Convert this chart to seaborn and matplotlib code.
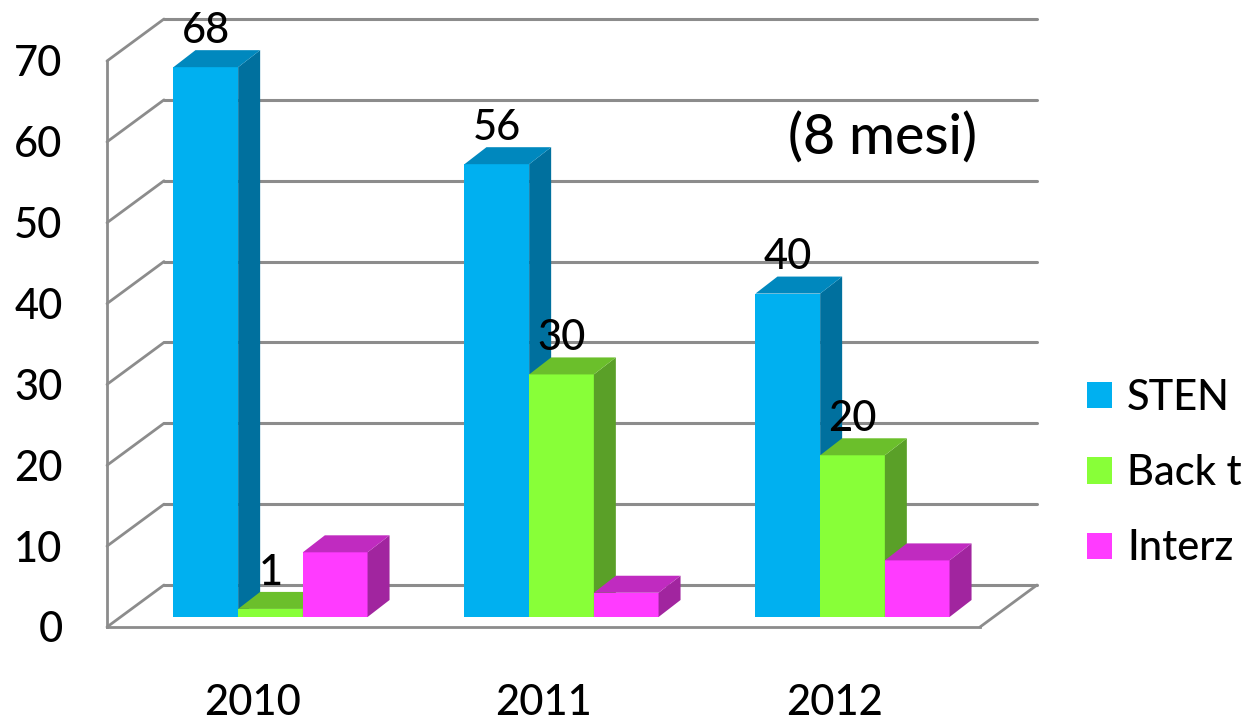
import matplotlib
matplotlib.use("Agg")
import matplotlib.pyplot as plt
from matplotlib.patches import Polygon, Patch
import seaborn as sns
import pandas as pd

# ---- data -------------------------------------------------------------
years = ["2010", "2011", "2012"]
series = ["STEN", "Back t", "Interz"]
sten = [68, 56, 40]
back_t = [1, 30, 20]
interz = [8, 3, 7]
labelled_series = ["STEN", "Back t"]
y_ticks = [0, 10, 20, 30, 40, 50, 60, 70]
note = "(8 mesi)"

# face colours per series: front, side, top
front_cols = ["#00B0F0", "#88FF38", "#FF3BFF"]
side_cols = ["#00709E", "#5AA028", "#A1259F"]
top_cols = ["#0088BE", "#6BBF2B", "#C02BC0"]

df = pd.DataFrame({
    "year": years * 3,
    "series": [s for s in series for _ in years],
    "value": sten + back_t + interz,
})

sns.set_style("white")
plt.rcParams["font.family"] = ["Lato", "DejaVu Sans"]
plt.rcParams["font.weight"] = "medium"
plt.rcParams["text.color"] = "black"
plt.rcParams["xtick.labelcolor"] = "black"
plt.rcParams["ytick.labelcolor"] = "black"

W, H = 1250, 726
fig = plt.figure(figsize=(W / 100, H / 100), dpi=100)
ax = fig.add_axes([107 / W, (H - 627) / H, (980 - 107) / W, (627 - 61) / H])

sns.barplot(data=df, x="year", y="value", hue="series", order=years,
            hue_order=series, palette=front_cols, saturation=1, width=0.667,
            dodge=True, legend=False, linewidth=0, ax=ax, zorder=3)

ax.set_xlim(-0.5, 2.5)
ax.set_ylim(0, 70)

# pixel -> data conversions for the oblique 3D projection
p0 = ax.transData.transform((0, 0))
p1 = ax.transData.transform((1, 10))
px_x = p1[0] - p0[0]          # pixels per category
px_y = (p1[1] - p0[1]) / 10   # pixels per unit


def dx(px):
    return px / px_x


def dy(px):
    return px / px_y


grid_col = "#8C8C8C"
back_dx, back_dy = dx(57), dy(42)     # back wall offset
front_dx, front_dy = dx(18), dy(10)   # front plane of the columns
deep_dx, deep_dy = dx(22), dy(17)     # column depth

# back wall gridlines and left wall diagonals
for v in y_ticks:
    ax.plot([-0.5 + back_dx, 2.5 + back_dx], [v + back_dy, v + back_dy],
            color=grid_col, lw=2.2, clip_on=False, zorder=1)
    ax.plot([-0.5, -0.5 + back_dx], [v, v + back_dy],
            color=grid_col, lw=2.0, clip_on=False, zorder=1)
# floor right edge
ax.plot([2.5, 2.5 + back_dx], [0, back_dy], color=grid_col, lw=2.0,
        clip_on=False, zorder=1)

# turn the flat bars into 3D columns
for i, cont in enumerate(ax.containers):
    z = 3 + i
    for j, rect in enumerate(cont.patches):
        x0 = rect.get_x() + front_dx
        w = rect.get_width()
        h = rect.get_height()
        x1 = x0 + w
        b = front_dy
        rect.set_x(x0)
        rect.set_y(b)
        rect.set_zorder(z)
        rect.set_clip_on(False)
        rect.set_edgecolor("none")
        side = Polygon([(x1, b), (x1 + deep_dx, b + deep_dy),
                        (x1 + deep_dx, b + h + deep_dy), (x1, b + h)],
                       closed=True, facecolor=side_cols[i], edgecolor="none",
                       zorder=z, clip_on=False)
        top = Polygon([(x0, b + h), (x0 + deep_dx, b + h + deep_dy),
                       (x1 + deep_dx, b + h + deep_dy), (x1, b + h)],
                      closed=True, facecolor=top_cols[i], edgecolor="none",
                      zorder=z, clip_on=False)
        ax.add_patch(side)
        ax.add_patch(top)
        if series[i] in labelled_series:
            ax.annotate(f"{h:g}", xy=(x0 + w / 2, b + h), xytext=(0, 17.5),
                        textcoords="offset points", ha="center",
                        va="baseline", fontsize=30, color="black", zorder=20,
                        annotation_clip=False)

# axes frame
for s in ["top", "right"]:
    ax.spines[s].set_visible(False)
for s in ["left", "bottom"]:
    ax.spines[s].set_color(grid_col)
    ax.spines[s].set_linewidth(2.0)
    ax.spines[s].set_zorder(2)

ax.set_yticks(y_ticks)
ax.set_yticklabels([str(v) for v in y_ticks])
ax.tick_params(axis="y", length=10, width=2, color=grid_col, pad=22,
               labelsize=30, labelcolor="black")
ax.set_xticks(range(len(years)))
ax.set_xticklabels(years)
ax.set_xticks([-0.5, 0.5, 1.5, 2.5], minor=True)
ax.tick_params(axis="x", which="major", length=0, pad=41, labelsize=30,
               labelcolor="black")
ax.tick_params(axis="x", which="minor", length=9.5, width=2, color=grid_col,
               direction="out")
ax.set_xlabel("")
ax.set_ylabel("")
ax.grid(False)

# annotation for the partial year
fig.text(882 / W, 1 - 139 / H, note, fontsize=40, ha="center", va="center")

# legend
handles = [Patch(facecolor=c, edgecolor="none") for c in front_cols]
fig.legend(handles, series, loc="center left",
           bbox_to_anchor=(1087 / W, 1 - 473 / H), frameon=False,
           fontsize=30, handlelength=0.6, handleheight=0.6,
           handletextpad=0.36, labelspacing=0.9, borderpad=0,
           borderaxespad=0)

fig.savefig("out.png", dpi=100)
